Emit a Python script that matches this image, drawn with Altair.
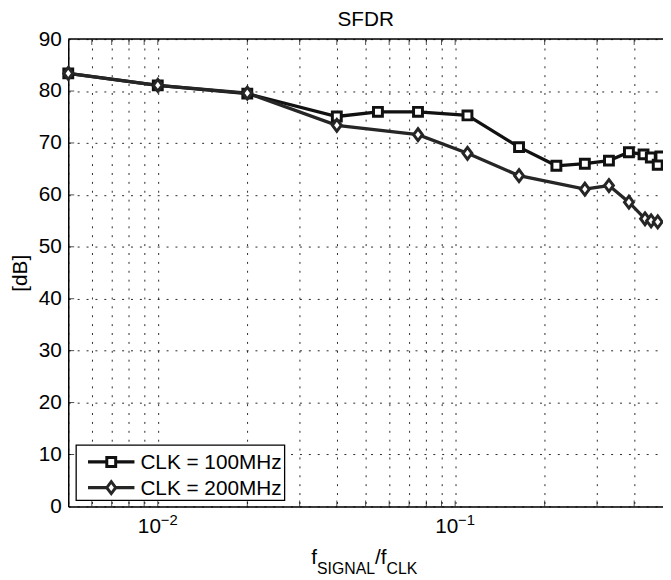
import altair as alt
import pandas as pd

FONT = "Liberation Sans"

# ---- data ----
series_names = ["CLK = 100MHz", "CLK = 200MHz"]
series_colors = ["#111111", "#262626"]

x_100 = [0.005, 0.01, 0.02, 0.04, 0.055, 0.075, 0.11, 0.164, 0.219, 0.273,
         0.329, 0.384, 0.43, 0.455, 0.48, 0.49]
y_100 = [83.4, 81.1, 79.5, 75.1, 76.0, 76.0, 75.3, 69.2, 65.6, 66.0,
         66.6, 68.2, 67.8, 67.2, 65.8, 67.4]

x_200 = [0.005, 0.01, 0.02, 0.04, 0.075, 0.11, 0.164, 0.273, 0.329, 0.384,
         0.435, 0.456, 0.48]
y_200 = [83.4, 81.1, 79.6, 73.4, 71.6, 68.0, 63.7, 61.1, 61.8, 58.6,
         55.4, 55.0, 54.8]

x_grid = [0.005, 0.006, 0.007, 0.008, 0.009, 0.01, 0.02, 0.03, 0.04, 0.05,
          0.06, 0.07, 0.08, 0.09, 0.1, 0.2, 0.3, 0.4]
x_major = [0.01, 0.1]
x_major_exp = ["\u22122", "\u22121"]
y_ticks = [0, 10, 20, 30, 40, 50, 60, 70, 80, 90]

W, H = 602, 473

rows = []
for xv, yv in zip(x_100, y_100):
    rows.append({"series": series_names[0], "x": xv, "y": yv})
for xv, yv in zip(x_200, y_200):
    rows.append({"series": series_names[1], "x": xv, "y": yv})
df = pd.DataFrame(rows)

xscale = alt.Scale(type="log", domain=[0.005, 0.5], nice=False)
yscale = alt.Scale(domain=[0, 90], nice=False)
cscale = alt.Scale(domain=series_names, range=series_colors)

diamond = "M0,-1.33L1,0L0,1.33L-1,0Z"
marker_shapes = ["square", diamond]
sscale = alt.Scale(domain=series_names, range=marker_shapes)

GRID_DASH = [2, 7]

xaxis = alt.Axis(
    values=x_grid,
    labelExpr="(abs(datum.value-0.01)<1e-9 || abs(datum.value-0.1)<1e-9) ? '10' : ''",
    labelOffset=-9, labelFontSize=21, labelFont=FONT, labelColor="black",
    labelPadding=9, tickSize=0, labelOverlap=False, labelFlush=False,
    grid=True, gridDash=GRID_DASH, gridColor="black", gridOpacity=0.85, gridWidth=1,
    domainColor="black", domainWidth=1.5, title=None,
)
yaxis = alt.Axis(
    values=y_ticks, labelFontSize=21, labelFont=FONT, labelColor="black",
    labelPadding=7, tickSize=0,
    grid=True, gridDash=GRID_DASH, gridColor="black", gridOpacity=0.85, gridWidth=1,
    domainColor="black", domainWidth=1.5,
    title="[dB]", titleFont=FONT, titleFontSize=21, titleFontWeight="normal",
    titleColor="black", titlePadding=8,
)

base = alt.Chart(df)

lines = base.mark_line(strokeWidth=3.3).encode(
    x=alt.X("x:Q", scale=xscale, axis=xaxis),
    y=alt.Y("y:Q", scale=yscale, axis=yaxis),
    color=alt.Color("series:N", scale=cscale, legend=None),
)

points = base.mark_point(filled=False, fill="white", strokeWidth=3, size=81, opacity=1).encode(
    x=alt.X("x:Q", scale=xscale),
    y=alt.Y("y:Q", scale=yscale),
    color=alt.Color("series:N", scale=cscale, legend=None),
    shape=alt.Shape("series:N", scale=sscale, legend=None),
)

# inward tick marks (MATLAB style)
xt_df = pd.DataFrame({"x": x_grid[1:]})
yt_df = pd.DataFrame({"y": y_ticks[1:-1]})
ticks_bottom = alt.Chart(xt_df).mark_tick(orient="vertical", size=6, thickness=1, color="black").encode(
    x=alt.X("x:Q", scale=xscale), y=alt.value(H - 3))
ticks_top = alt.Chart(xt_df).mark_tick(orient="vertical", size=6, thickness=1, color="black").encode(
    x=alt.X("x:Q", scale=xscale), y=alt.value(3))
ticks_left = alt.Chart(yt_df).mark_tick(orient="horizontal", size=6, thickness=1, color="black").encode(
    y=alt.Y("y:Q", scale=yscale), x=alt.value(3))

exp_df = pd.DataFrame({"x": x_major, "e": x_major_exp})
exps = alt.Chart(exp_df).mark_text(
    align="left", baseline="alphabetic", dx=3, fontSize=15, font=FONT, color="black"
).encode(
    x=alt.X("x:Q", scale=xscale),
    y=alt.value(H + 19),
    text="e:N",
)

one = pd.DataFrame({"a": [0]})
top_border = alt.Chart(one).mark_rule(color="black", strokeWidth=1.5).encode(
    x=alt.value(0), x2=alt.value(W), y=alt.value(0)
)

title_txt = alt.Chart(one).mark_text(
    text="SFDR", align="center", baseline="alphabetic", fontSize=21, font=FONT, color="black"
).encode(x=alt.value(W / 2), y=alt.value(-13))

title_parts = [("f", 246, 58, 21), ("SIGNAL", 251.8, 68, 16), ("/", 310.5, 58, 21),
               ("f", 316.3, 58, 21), ("CLK", 322.1, 68, 16)]
tlayers = []
for txt, px, dy, fs in title_parts:
    tlayers.append(
        alt.Chart(one).mark_text(
            text=txt, align="left", baseline="alphabetic", fontSize=fs, font=FONT, color="black"
        ).encode(x=alt.value(px), y=alt.value(H + dy))
    )

# legend box (drawn in pixel space, bottom-left inside the plot)
leg_layers = [
    alt.Chart(one).mark_rect(fill="white", stroke="black", strokeWidth=1.3).encode(
        x=alt.value(8), x2=alt.value(219), y=alt.value(411), y2=alt.value(467))
]
for i, name in enumerate(series_names):
    yrow = 428 + 26 * i
    leg_layers.append(alt.Chart(one).mark_rule(strokeWidth=3.3, color=series_colors[i]).encode(
        x=alt.value(20), x2=alt.value(67), y=alt.value(yrow)))
    leg_layers.append(alt.Chart(one).mark_point(
        shape=marker_shapes[i], size=81, filled=False, fill="white", strokeWidth=3,
        color=series_colors[i], opacity=1).encode(x=alt.value(43.5), y=alt.value(yrow)))
    leg_layers.append(alt.Chart(one).mark_text(
        text=name, align="left", baseline="alphabetic", fontSize=21, font=FONT, color="black"
    ).encode(x=alt.value(73), y=alt.value(yrow + 7.5)))

chart = alt.layer(
    lines, points, ticks_bottom, ticks_top, ticks_left, exps, top_border, title_txt,
    *tlayers, *leg_layers
).properties(
    width=W, height=H,
    autosize=alt.AutoSizeParams(type="none"),
    padding={"left": 61, "top": 28, "right": 0, "bottom": 71},
).configure_view(strokeWidth=0).configure(background="white")

chart.save("out.html", embed_options={"renderer": "svg", "actions": False})
